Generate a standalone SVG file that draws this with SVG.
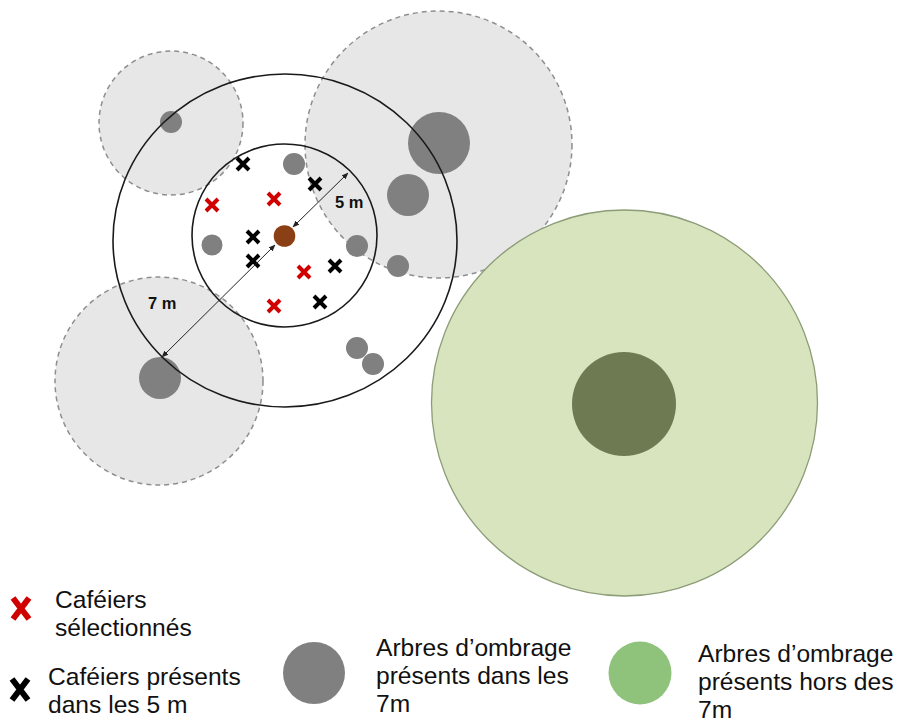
<svg xmlns="http://www.w3.org/2000/svg" width="901" height="724" viewBox="0 0 901 724">
<style>
.zone{fill:#e7e7e7;stroke:#8e8e8e;stroke-width:1.5;stroke-dasharray:5 4}
.tree{fill:#808080}
.ring{fill:none;stroke:#1a1a1a;stroke-width:1.6}
.xr{stroke:#d00000;stroke-width:4;fill:none}
.xb{stroke:#000;stroke-width:4;fill:none}
.dim{stroke:#222;stroke-width:1;fill:none;marker-start:url(#ah);marker-end:url(#ah)}
.lbl{font-family:"Liberation Sans",Arial,sans-serif;font-weight:bold;font-size:16.5px;fill:#111}
.leg{font-family:"Liberation Sans",Arial,sans-serif;font-size:24.6px;fill:#111}
</style>
<defs>
<marker id="ah" viewBox="0 0 10 10" refX="9" refY="5" markerWidth="7" markerHeight="7" orient="auto-start-reverse" markerUnits="userSpaceOnUse">
<path d="M0,1 L10,5 L0,9 Z" fill="#222"/>
</marker>
<path id="xs" d="M-6,-6 L6,6 M6,-6 L-6,6"/>
</defs>
<rect width="901" height="724" fill="#fff"/>

<g id="zone-topleft"><circle class="zone" cx="171" cy="123" r="72"/></g>
<g id="zone-topright"><circle class="zone" cx="438.5" cy="144.5" r="133.5"/></g>
<g id="zone-bottomleft"><circle class="zone" cx="159" cy="381" r="104"/></g>

<g id="tree-outside">
<circle cx="624.5" cy="403" r="193" fill="#d7e4bd" stroke="#8d9c78" stroke-width="1.3"/>
<circle cx="624" cy="404" r="52" fill="#6e7a52"/>
</g>

<g id="trees">
<circle class="tree" cx="171" cy="122" r="11"/>
<circle class="tree" cx="439" cy="143" r="31"/>
<circle class="tree" cx="408" cy="195" r="21"/>
<circle class="tree" cx="294" cy="164" r="11"/>
<circle class="tree" cx="357" cy="246" r="11"/>
<circle class="tree" cx="398" cy="266" r="11"/>
<circle class="tree" cx="212" cy="245" r="10.5"/>
<circle class="tree" cx="357" cy="348" r="11"/>
<circle class="tree" cx="373" cy="364" r="11"/>
<circle class="tree" cx="160" cy="378" r="21"/>
</g>

<g id="rings">
<ellipse class="ring" cx="285" cy="240.5" rx="172" ry="166.5"/>
<ellipse class="ring" cx="284.5" cy="235.5" rx="92.5" ry="91.5"/>
</g>

<g id="focal"><circle cx="284.5" cy="236" r="10.8" fill="#8b3f14"/></g>

<g id="cafeiers-black" class="xb">
<use href="#xs" x="243" y="164"/>
<use href="#xs" x="315" y="184"/>
<use href="#xs" x="253" y="237"/>
<use href="#xs" x="253" y="261"/>
<use href="#xs" x="335" y="266"/>
<use href="#xs" x="320" y="302"/>
</g>
<g id="cafeiers-red" class="xr">
<use href="#xs" x="212" y="205"/>
<use href="#xs" x="274" y="199"/>
<use href="#xs" x="304" y="272"/>
<use href="#xs" x="274" y="306"/>
</g>

<g id="connectors">
<line class="dim" x1="293" y1="227" x2="348" y2="173"/>
<line class="dim" x1="275" y1="245" x2="162" y2="357"/>
</g>
<g id="labels">
<text class="lbl" x="335" y="208">5 m</text>
<text class="lbl" x="148" y="309">7 m</text>
</g>

<g id="legend-red">
<path d="M13,598 L29,619 M29,598 L13,619" stroke="#d00000" stroke-width="6" fill="none"/>
<text class="leg" x="55" y="608">Caféiers</text>
<text class="leg" x="55" y="636">sélectionnés</text>
</g>
<g id="legend-black">
<path d="M12,679 L28,700 M28,679 L12,700" stroke="#000" stroke-width="6" fill="none"/>
<text class="leg" x="48" y="685">Caféiers présents</text>
<text class="leg" x="48" y="713">dans les 5 m</text>
</g>
<g id="legend-gray">
<circle cx="314" cy="673" r="31" fill="#808080"/>
<text class="leg" x="376" y="656">Arbres d’ombrage</text>
<text class="leg" x="376" y="684">présents dans les</text>
<text class="leg" x="376" y="712">7m</text>
</g>
<g id="legend-green">
<circle cx="640" cy="673" r="31.5" fill="#8fc27b"/>
<text class="leg" x="698" y="662">Arbres d’ombrage</text>
<text class="leg" x="698" y="690">présents hors des</text>
<text class="leg" x="698" y="718">7m</text>
</g>
</svg>
